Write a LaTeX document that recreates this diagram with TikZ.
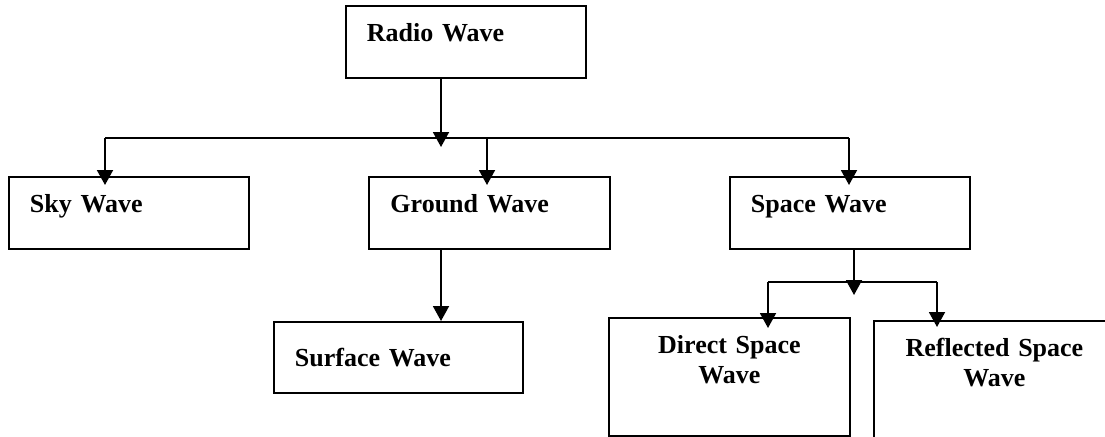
\documentclass[tikz,border=0pt]{standalone}
\usepackage{fontspec}
\setmainfont{Liberation Serif}
\usetikzlibrary{arrows.meta}
\tikzstyle{wavebox} = [
    rectangle,
    anchor=north west,
    minimum width=4.8cm,
    minimum height=1.44cm,
    inner xsep=0.42cm,
    text width=3.96cm,
    align=left,
    text height=0.4cm,
    text depth=0.4cm,
    font=\fontsize{14.8}{17}\selectfont\bfseries,
    line width=1.1pt,
    draw=black
]
\tikzstyle{tallbox} = [
    wavebox,
    minimum width=4.82cm,
    minimum height=2.36cm,
    inner xsep=0.2cm,
    text width=4.42cm,
    align=center,
    text depth=1.32cm
]
\tikzstyle{line} = [line width=1.1pt]
\tikzstyle{arrow} = [line width=1.1pt,-{Triangle[length=0.3cm,width=0.32cm]},shorten >=-0.18cm]

\begin{document}
\begin{tikzpicture}[x=0.02cm, y=-0.02cm]
\useasboundingbox (0,0) rectangle (1105,436);
\clip (0,0) rectangle (1105,436);

\node (radio) [wavebox] at (345,5) {Radio Wave};

\node (sky) [wavebox] at (8,176) {Sky Wave};
\node (ground) [wavebox, minimum width=4.82cm] at (368,176) {Ground Wave};
\node (space) [wavebox] at (729,176) {Space Wave};

\node (surface) [wavebox, minimum width=4.98cm, text width=4.14cm,
    minimum height=1.42cm, text depth=0.04cm] at (273,321) {Surface Wave};

\node (direct) [tallbox] at (608,317) {Direct Space\\Wave};
\node (reflected) [tallbox, minimum width=4.8cm] at (873,320) {Reflected Space\\Wave};

% junctions
\coordinate (radiojoin) at (441,138);
\coordinate (skyturn) at (105,138);
\coordinate (groundturn) at (487,138);
\coordinate (spaceturn) at (849,138);
\coordinate (spacejoin) at (854,282);
\coordinate (directturn) at (768,282);
\coordinate (reflturn) at (937,282);

\draw [arrow] (radio.south -| radiojoin) -- (radiojoin);
\draw [line] (skyturn) -- (spaceturn);
\draw [arrow] (skyturn) -- (skyturn |- sky.north);
\draw [arrow] (groundturn) -- (groundturn |- ground.north);
\draw [arrow] (spaceturn) -- (spaceturn |- space.north);

\draw [arrow, shorten >=0pt] (ground.south -| radiojoin) -- (radiojoin |- surface.north);

\draw [arrow, shorten >=-0.26cm] (space.south -| spacejoin) -- (spacejoin);
\draw [line] (directturn) -- (reflturn);
\draw [arrow, shorten >=-0.22cm] (directturn) -- (directturn |- direct.north);
\draw [arrow, shorten >=-0.14cm] (reflturn) -- (reflturn |- reflected.north);

\end{tikzpicture}
\end{document}
